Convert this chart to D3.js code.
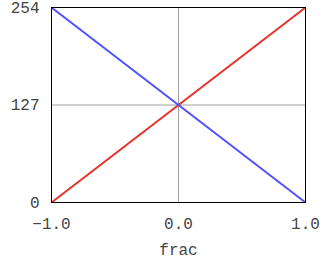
<!DOCTYPE html>
<html>
<head>
<meta charset="utf-8">
<script src="https://cdn.jsdelivr.net/npm/d3@7"></script>
<style>
  body { margin: 0; background: #fff; }
  text { font-family: "Liberation Mono", "DejaVu Sans Mono", monospace; font-size: 16px; fill: #444; }
</style>
</head>
<body>
<div id="chart"></div>
<script>
// chart data
const fracValues = [-1.0, 1.0];
const redValues = [0, 254];
const blueValues = [254, 0];
const xTicks = [-1.0, 0.0, 1.0];
const yTicks = [0, 127, 254];

const width = 324, height = 273;
const margin = {left: 51.5, right: 18.5, top: 7.5, bottom: 70.5};

const svg = d3.select('#chart').append('svg')
  .attr('width', width)
  .attr('height', height);

const x = d3.scaleLinear().domain([-1, 1]).range([margin.left, width - margin.right]);
const y = d3.scaleLinear().domain([0, 254]).range([height - margin.bottom, margin.top]);

// grid lines (inner ticks only)
svg.selectAll('.vgrid')
  .data(xTicks.slice(1, -1))
  .enter().append('line')
  .attr('x1', d => x(d)).attr('x2', d => x(d))
  .attr('y1', y(0)).attr('y2', y(254))
  .attr('stroke', '#a0a0a0').attr('stroke-width', 1);

svg.selectAll('.hgrid')
  .data(yTicks.slice(1, -1))
  .enter().append('line')
  .attr('x1', x(-1)).attr('x2', x(1))
  .attr('y1', d => y(d)).attr('y2', d => y(d))
  .attr('stroke', '#a0a0a0').attr('stroke-width', 1);

// series lines
const line = d3.line().x(d => x(d[0])).y(d => y(d[1]));
svg.append('path')
  .datum(fracValues.map((f, i) => [f, redValues[i]]))
  .attr('d', line)
  .attr('fill', 'none')
  .attr('stroke', '#e8302a')
  .attr('stroke-width', 2);
svg.append('path')
  .datum(fracValues.map((f, i) => [f, blueValues[i]]))
  .attr('d', line)
  .attr('fill', 'none')
  .attr('stroke', '#5050ff')
  .attr('stroke-width', 2);

// frame
svg.append('rect')
  .attr('x', x(-1)).attr('y', y(254))
  .attr('width', x(1) - x(-1)).attr('height', y(0) - y(254))
  .attr('fill', 'none').attr('stroke', '#000').attr('stroke-width', 1);

// tick labels
svg.selectAll('.xlab')
  .data(xTicks)
  .enter().append('text')
  .attr('x', d => x(d))
  .attr('y', y(0) + 26)
  .attr('text-anchor', 'middle')
  .text(d => d3.format('.1f')(d));

svg.selectAll('.ylab')
  .data(yTicks)
  .enter().append('text')
  .attr('x', x(-1) - 12)
  .attr('y', d => y(d) + 5)
  .attr('text-anchor', 'end')
  .text(d => d);

svg.append('text')
  .attr('x', x(0))
  .attr('y', y(0) + 52)
  .attr('text-anchor', 'middle')
  .text('frac');
</script>
</body>
</html>
